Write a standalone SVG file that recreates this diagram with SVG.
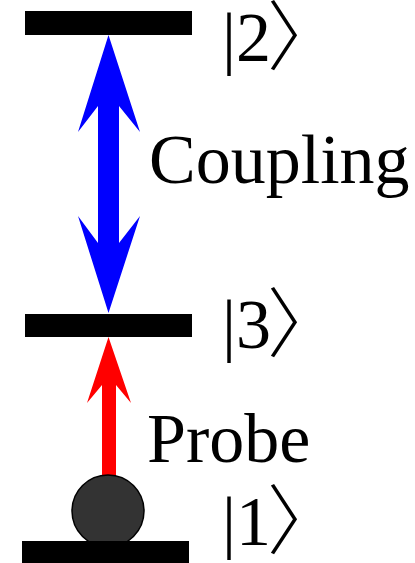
<svg xmlns="http://www.w3.org/2000/svg" width="415" height="563" viewBox="0 0 415 563">
<style>
.lvl{fill:#000}
.lbl{font-family:"Liberation Serif","DejaVu Serif",serif;font-size:70px;fill:#000}
.br{font-family:"Noto Sans CJK JP","DejaVu Serif",serif;font-size:76px;font-weight:300;fill:#000}
</style>
<rect width="415" height="563" fill="#fff"/>
<g id="connectors">
<polygon id="coupling-arrow" fill="#0000ff" points="108.5,35 140,132 119,106 119,243 140,216 108.5,313 78,216 98,243 98,106 78,132"/>
<polygon id="probe-arrow" fill="#ff0000" points="108.5,337 131,403 116,385 116,478 102,478 102,385 87,403"/>
</g>
<g id="atom">
<circle cx="108" cy="511" r="36" fill="#333" stroke="#000" stroke-width="1.5"/>
</g>
<g id="level2">
<rect class="lvl" x="25" y="11" width="167" height="24"/>
<text class="lbl" x="222" y="61">|2<tspan class="br" x="267" y="64">〉</tspan></text>
</g>
<g id="level3">
<rect class="lvl" x="25" y="314" width="167" height="23"/>
<text class="lbl" x="222" y="348">|3<tspan class="br" x="267" y="351">〉</tspan></text>
</g>
<g id="level1">
<rect class="lvl" x="22" y="541" width="167" height="22"/>
<text class="lbl" x="222" y="545">|1<tspan class="br" x="267" y="548">〉</tspan></text>
</g>
<g id="labels">
<text class="lbl" x="149" y="183">Coupling</text>
<text class="lbl" x="147" y="462">Probe</text>
</g>
</svg>
